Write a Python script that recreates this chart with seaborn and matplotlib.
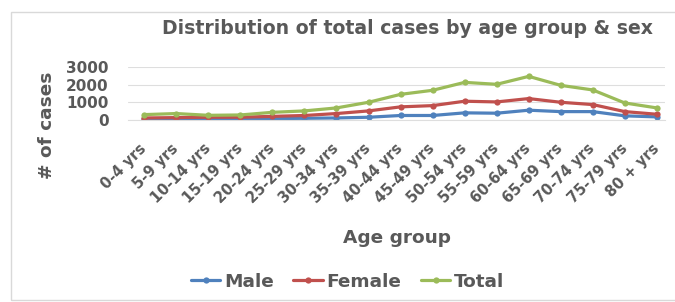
import pandas as pd
import matplotlib.pyplot as plt
import seaborn as sns
from matplotlib.patches import Rectangle

# données
age_groups = ["0-4 yrs", "5-9 yrs", "10-14 yrs", "15-19 yrs", "20-24 yrs", "25-29 yrs",
              "30-34 yrs", "35-39 yrs", "40-44 yrs", "45-49 yrs", "50-54 yrs", "55-59 yrs",
              "60-64 yrs", "65-69 yrs", "70-74 yrs", "75-79 yrs", "80 + yrs"]
male = [60, 60, 40, 30, 75, 90, 110, 150, 250, 250, 400, 380, 550, 470, 470, 230, 170]
female = [110, 130, 150, 150, 200, 250, 360, 510, 740, 810, 1060, 1020, 1210, 1000, 870, 470, 320]
total = [300, 360, 260, 280, 430, 510, 680, 1000, 1450, 1680, 2130, 2020, 2470, 1960, 1700, 960, 680]
y_ticks = [0, 1000, 2000, 3000]

df = pd.concat([
    pd.DataFrame({"age": age_groups, "cases": male, "sex": "Male"}),
    pd.DataFrame({"age": age_groups, "cases": female, "sex": "Female"}),
    pd.DataFrame({"age": age_groups, "cases": total, "sex": "Total"}),
])

sns.set_style("white")
plt.rcParams["font.family"] = ["DejaVu Sans"]
grey = "#595959"
palette = {"Male": "#4F81BD", "Female": "#C0504D", "Total": "#9BBB59"}

fig = plt.figure(figsize=(6.75, 3.02), dpi=100)
ax = fig.add_axes([0.19, 0.603, 0.795, 0.175])

sns.lineplot(data=df, x="age", y="cases", hue="sex", palette=palette, marker="o",
             markersize=4.5, markeredgewidth=0, linewidth=2.3, sort=False, ax=ax)

ax.set_ylim(0, 3000)
ax.set_xlim(-0.5, len(age_groups) - 0.75)
ax.set_yticks(y_ticks)
ax.set_yticklabels([str(t) for t in y_ticks], fontsize=11, fontweight="bold", color=grey)
ax.set_xticks(range(len(age_groups)))
ax.set_xticklabels(age_groups, rotation=45, ha="right", va="center", rotation_mode="anchor",
                   fontsize=10.5, fontweight="bold", color=grey)
ax.tick_params(axis="x", length=0, pad=19)
ax.tick_params(axis="y", length=0, pad=14)
ax.grid(axis="y", color="#dedede", linewidth=0.8)
for s in ["top", "right", "left"]:
    ax.spines[s].set_visible(False)
ax.spines["bottom"].set_color("#dedede")

ax.set_xlabel("Age group", fontsize=13.3, fontweight="bold", color=grey)
ax.set_ylabel("# of cases", fontsize=13.3, fontweight="bold", color=grey)
ax.xaxis.set_label_coords(0.5, -2.06)
ax.yaxis.set_label_coords(-0.134, -0.1)

fig.text(0.604, 0.907, "Distribution of total cases by age group & sex", ha="center",
         va="center", fontsize=13.6, fontweight="bold", color=grey)

handles, labels = ax.get_legend_handles_labels()
ax.get_legend().remove()
fig.legend(handles, labels, loc="center", bbox_to_anchor=(0.515, 0.067), ncol=3,
           frameon=False, handlelength=1.6, columnspacing=1.05, handletextpad=0.2,
           prop={"size": 13.3, "weight": "bold"}, labelcolor=grey)

fig.patches.append(Rectangle((11 / 675, 2 / 302), 1.0, 288 / 302, transform=fig.transFigure,
                             fill=False, edgecolor="#d9d9d9", linewidth=1))

fig.savefig("out.png", dpi=100)
